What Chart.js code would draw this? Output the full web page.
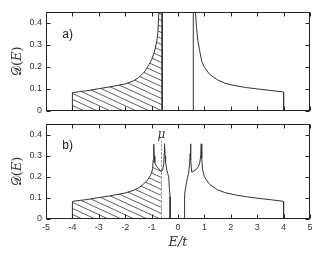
<!DOCTYPE html>
<html>
<head>
<meta charset="utf-8">
<script src="https://cdn.jsdelivr.net/npm/chart.js@4.4.0/dist/chart.umd.min.js"></script>
<style>
  html, body { margin: 0; padding: 0; background: #fff; }
  #wrap { position: relative; width: 321px; height: 258px; overflow: hidden; }
  canvas { position: absolute; left: 0; }
  #ca { top: 0; }
  #cb { top: 115px; }
</style>
</head>
<body>
<div id="wrap">
  <canvas id="ca" width="321" height="120"></canvas>
  <canvas id="cb" width="321" height="143"></canvas>
</div>
<script>
// axis ticks
const xTicks = [-5, -4, -3, -2, -1, 0, 1, 2, 3, 4, 5];
const yTicks = [0, 0.1, 0.2, 0.3, 0.4];

// chemical potential for each panel
const muA = -0.6;
const muB = -0.63;

// panel a) density of states
const eA = [-5, -4, -4, -3.5, -3, -2.5, -2, -1.7, -1.5, -1.3, -1.2, -1.1, -1.0, -0.9, -0.85, -0.8,
  -0.76, -0.73, -0.71, -0.6, -0.6, 0.58, 0.58, 0.645, 0.66, 0.7, 0.75, 0.81, 0.9, 1.0, 1.2, 1.5,
  1.8, 2.2, 2.6, 3.0, 3.5, 4.0, 4.0, 5];
const dA = [0, 0, 0.082, 0.09, 0.1, 0.11, 0.122, 0.135, 0.15, 0.172, 0.19, 0.21, 0.232, 0.265, 0.29, 0.32,
  0.36, 0.44, 0.6, 0.6, 0, 0, 0.6, 0.6, 0.45, 0.38, 0.32, 0.28, 0.225, 0.197, 0.165, 0.14,
  0.124, 0.113, 0.105, 0.099, 0.092, 0.085, 0, 0];

// panel b) density of states
const eB = [-5, -4, -4, -3.5, -3, -2.5, -2, -1.7, -1.5, -1.3, -1.15, -1.05, -1.0, -0.96, -0.94,
  -0.92, -0.9, -0.88, -0.85, -0.8, -0.72, -0.65, -0.63, -0.58, -0.54, -0.52, -0.51, -0.49, -0.47,
  -0.43, -0.39, -0.35, -0.33, -0.3, -0.3, 0.25, 0.25, 0.3, 0.35, 0.4, 0.44, 0.46, 0.47, 0.49, 0.52,
  0.6, 0.7, 0.78, 0.83, 0.86, 0.88, 0.9, 0.93, 1.0, 1.1, 1.2, 1.5, 1.8, 2.2, 2.6, 3.0, 3.5, 4.0, 4.0, 5];
const dB = [0, 0, 0.082, 0.09, 0.1, 0.11, 0.122, 0.134, 0.146, 0.165, 0.185, 0.205, 0.218, 0.24, 0.28,
  0.355, 0.3, 0.27, 0.258, 0.248, 0.237, 0.227, 0.224, 0.232, 0.26, 0.31, 0.357, 0.3, 0.27,
  0.235, 0.215, 0.197, 0.15, 0.105, 0, 0, 0.115, 0.155, 0.19, 0.215, 0.26, 0.31, 0.357, 0.28, 0.222,
  0.226, 0.236, 0.25, 0.27, 0.3, 0.357, 0.29, 0.235, 0.2, 0.18, 0.163, 0.137, 0.123, 0.112, 0.104, 0.097, 0.09, 0.082, 0, 0];

const textColor = '#333';
const lineColor = '#333';

// diagonal hatch pattern
function makeHatch(ctx) {
  const w = 13, h = 6;
  const c = document.createElement('canvas');
  c.width = w; c.height = h;
  const g = c.getContext('2d');
  g.strokeStyle = '#444';
  g.lineWidth = 0.85;
  for (let k = -1; k <= 1; k++) {
    g.beginPath();
    g.moveTo(-1, k * h - h / w);
    g.lineTo(w + 1, k * h + h + h / w);
    g.stroke();
  }
  return ctx.createPattern(c, 'repeat');
}

// gnuplot-ish frame with inward ticks, panel label, mu marker
const framePlugin = {
  id: 'frame',
  afterDatasetsDraw(chart, args, opts) {
    const { ctx, chartArea: a, scales: { x, y } } = chart;
    ctx.save();
    const L = Math.round(a.left) + 0.5, R = Math.round(a.right) - 0.5;
    const T = Math.round(a.top) + 0.5, B = Math.round(a.bottom) - 0.5;

    // mu line
    if (opts.muDash) {
      const px = Math.round(x.getPixelForValue(opts.mu)) + 0.5;
      ctx.strokeStyle = '#777';
      ctx.lineWidth = 1;
      ctx.setLineDash([2, 2]);
      ctx.beginPath();
      ctx.moveTo(px, y.getPixelForValue(0));
      ctx.lineTo(px, y.getPixelForValue(0.37));
      ctx.stroke();
      ctx.setLineDash([]);
      ctx.fillStyle = textColor;
      ctx.font = 'italic 12px "DejaVu Serif"';
      ctx.textAlign = 'center';
      ctx.textBaseline = 'middle';
      ctx.fillText('μ', px, y.getPixelForValue(0.40));
    }

    ctx.strokeStyle = '#222';
    ctx.lineWidth = 1;
    ctx.strokeRect(L, T, R - L, B - T);
    ctx.beginPath();
    xTicks.forEach(v => {
      const px = Math.round(x.getPixelForValue(v)) + 0.5;
      ctx.moveTo(px, T); ctx.lineTo(px, T + 4);
      ctx.moveTo(px, B); ctx.lineTo(px, B - 4);
    });
    yTicks.forEach(v => {
      const py = Math.round(y.getPixelForValue(v)) + 0.5;
      ctx.moveTo(L, py); ctx.lineTo(L + 4, py);
      ctx.moveTo(R, py); ctx.lineTo(R - 4, py);
    });
    ctx.stroke();

    ctx.fillStyle = '#222';
    ctx.font = '12px "Liberation Sans"';
    ctx.textAlign = 'left';
    ctx.textBaseline = 'middle';
    ctx.fillText(opts.label, x.getPixelForValue(-4.38), y.getPixelForValue(opts.labelY));
    ctx.restore();
  }
};

function points(es, ds) {
  return es.map((e, i) => ({ x: e, y: ds[i] }));
}

function hatchPoints(es, ds, mu) {
  const p = points(es, ds).filter(q => q.x <= mu);
  p.push({ x: mu, y: 0 });
  return p;
}

function makeChart(id, es, ds, mu, opt) {
  const el = document.getElementById(id);
  const ctx = el.getContext('2d');
  return new Chart(ctx, {
    type: 'line',
    data: {
      datasets: [
        {
          data: points(es, ds),
          borderColor: lineColor,
          borderWidth: 1,
          pointRadius: 0,
          fill: false,
          tension: 0
        },
        {
          data: hatchPoints(es, ds, mu),
          borderWidth: 0,
          borderColor: 'rgba(0,0,0,0)',
          backgroundColor: makeHatch(ctx),
          pointRadius: 0,
          fill: 'origin',
          tension: 0
        }
      ]
    },
    options: {
      responsive: false,
      animation: false,
      events: [],
      layout: { padding: { top: opt.padTop, right: 11, left: 0, bottom: 0 } },
      plugins: {
        legend: { display: false },
        tooltip: { enabled: false },
        frame: { label: opt.label, labelY: opt.labelY, mu: mu, muDash: opt.muDash }
      },
      scales: {
        x: {
          type: 'linear',
          min: -5,
          max: 5,
          grid: { display: false, drawTicks: false, tickLength: 0 },
          border: { display: false },
          afterBuildTicks: s => { s.ticks = xTicks.map(v => ({ value: v })); },
          afterFit: s => { s.height = opt.xHeight; },
          ticks: {
            display: opt.xLabels,
            padding: 4,
            color: textColor,
            font: { family: '"Liberation Sans"', size: 9 },
            callback: v => String(v)
          },
          title: {
            display: opt.xLabels,
            text: 'E/t',
            color: textColor,
            padding: { top: 0, bottom: 8 },
            font: { family: '"DejaVu Serif"', size: 13, style: 'italic' }
          }
        },
        y: {
          min: 0,
          max: 0.45,
          grid: { display: false, drawTicks: false, tickLength: 0 },
          border: { display: false },
          afterBuildTicks: s => { s.ticks = yTicks.map(v => ({ value: v })); },
          afterFit: s => { s.width = 46; },
          ticks: {
            padding: 4,
            color: textColor,
            font: { family: '"Liberation Sans"', size: 9 },
            callback: v => (v === 0 ? '0' : v.toFixed(1))
          },
          title: {
            display: true,
            text: '𝒟(𝐸)',
            color: textColor,
            padding: { top: 10, bottom: 0 },
            font: { family: '"DejaVu Serif"', size: 13 }
          }
        }
      }
    },
    plugins: [framePlugin]
  });
}

makeChart('ca', eA, dA, muA, { padTop: 12, xHeight: 8, xLabels: false, label: 'a)', labelY: 0.345, muDash: false });
makeChart('cb', eB, dB, muB, { padTop: 4, xHeight: 39.5, xLabels: true, label: 'b)', labelY: 0.35, muDash: true });
</script>
</body>
</html>
